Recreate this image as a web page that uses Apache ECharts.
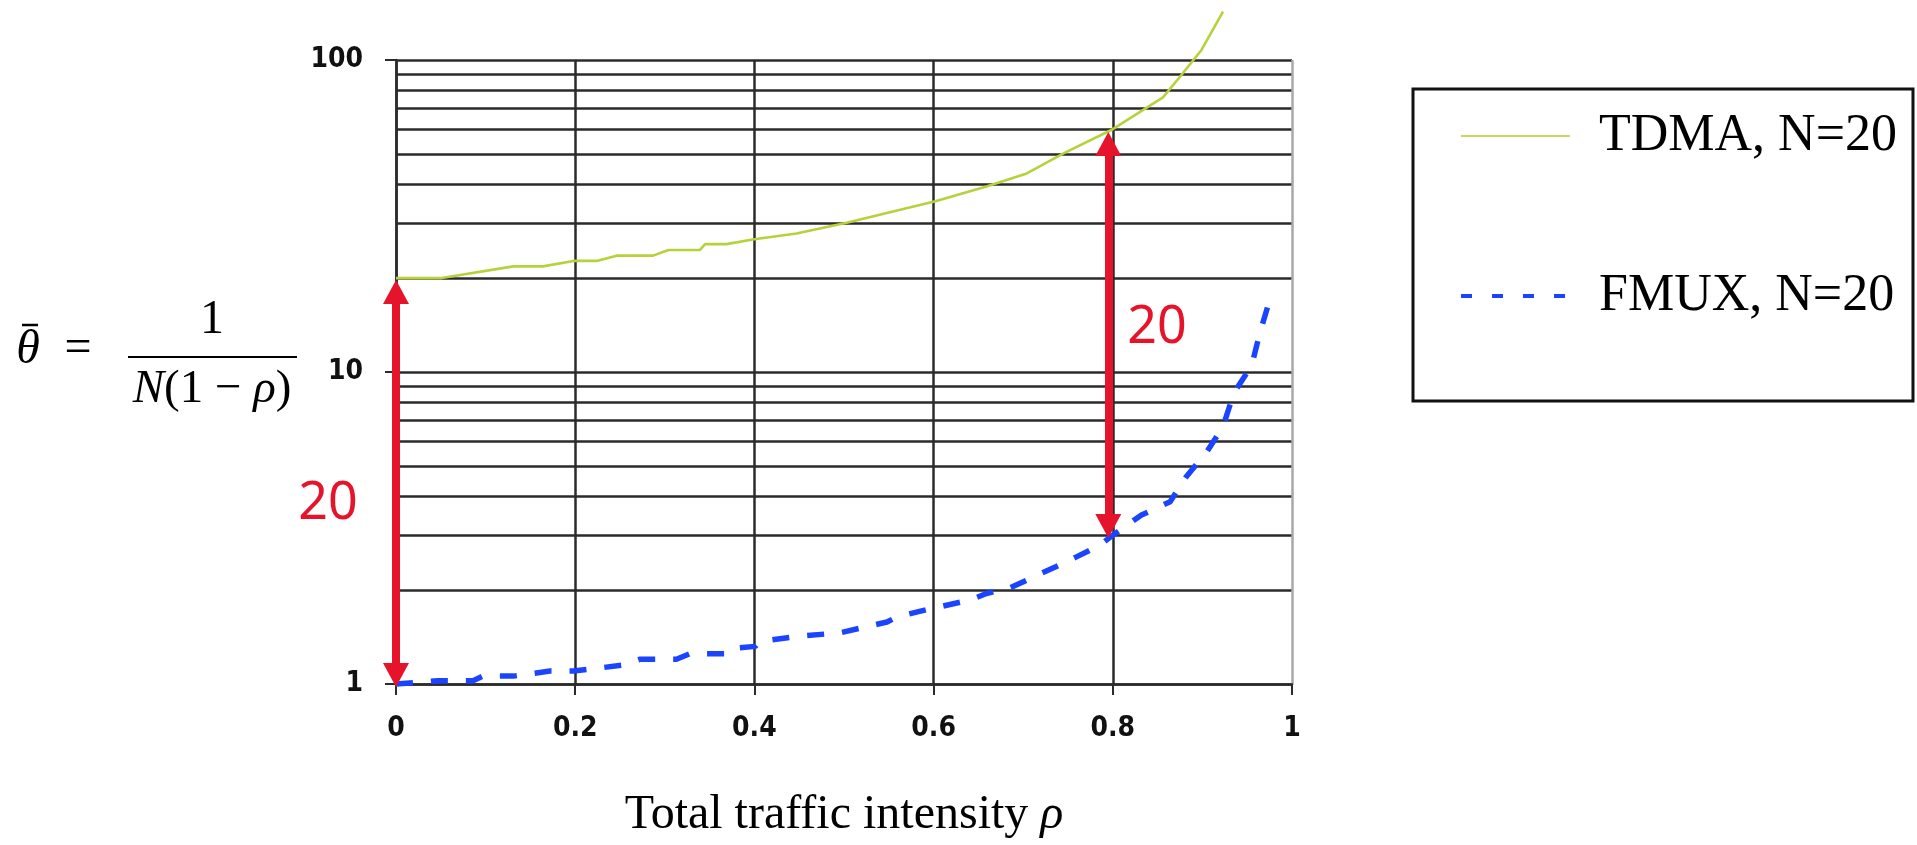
<!DOCTYPE html>
<html>
<head>
<meta charset="utf-8">
<title>TDMA vs FMUX delay</title>
<script src="https://cdn.jsdelivr.net/npm/echarts@6/dist/echarts.min.js"></script>
<style>
  html, body { margin: 0; padding: 0; background: #fff; }
  #chart { width: 1917px; height: 845px; }
</style>
</head>
<body>
<div id="chart"></div>
<script>
// curves (rho, mean delay)
const tdmaRho   = [0, 0.051, 0.131, 0.164, 0.198, 0.224, 0.246, 0.287, 0.304, 0.339, 0.345, 0.369, 0.398, 0.447, 0.503, 0.603, 0.659, 0.704, 0.745, 0.8, 0.856, 0.875, 0.899, 0.923]
const tdmaDelay = [20.0, 20.0, 21.8, 21.8, 22.7, 22.7, 23.6, 23.6, 24.6, 24.6, 25.7, 25.7, 26.6, 27.8, 30.1, 35.3, 39.3, 43.3, 50.2, 60, 75.9, 88.4, 107.7, 142.8]

const fmuxRho   = [0, 0.047, 0.086, 0.097, 0.131, 0.172, 0.198, 0.254, 0.272, 0.313, 0.328, 0.367, 0.373, 0.401, 0.406, 0.447, 0.496, 0.548, 0.559, 0.592, 0.641, 0.659, 0.685, 0.708, 0.737, 0.76, 0.786, 0.8, 0.832, 0.864, 0.882, 0.905, 0.923, 0.935, 0.955, 0.964, 0.975]
const fmuxDelay = [1.0, 1.025, 1.025, 1.06, 1.06, 1.10, 1.10, 1.15, 1.2, 1.2, 1.25, 1.25, 1.3, 1.32, 1.37, 1.42, 1.46, 1.58, 1.64, 1.73, 1.86, 1.95, 2.03, 2.18, 2.38, 2.56, 2.79, 3.0, 3.48, 3.84, 4.62, 5.55, 6.68, 8.55, 10.5, 13.3, 17.0]

// red "x20" arrows: [rho, value] where the two arrowheads sit
const leftArrow  = [[0, 1.069], [0, 18.05]]
const rightArrow = [[0.795, 3.21], [0.795, 53.8]]

const legendNames = ['TDMA, N=20', 'FMUX, N=20']

const RED = '#e5142b'
const TDMA_COLOR = '#b5d23c'
const FMUX_COLOR = '#1a44ff'
const serif = "'Liberation Serif', 'Times New Roman', serif"
const tickFont = "'Liberation Sans Narrow', 'DejaVu Sans Condensed', 'Liberation Sans', Arial, sans-serif"
const gridColor = '#2b2b2b'

const chart = echarts.init(document.getElementById('chart'))

const toPairs = (xs, ys) => xs.map((x, i) => [x, ys[i]])

const option = {
  animation: false,
  grid: { left: 396, top: 60, width: 896, height: 624 },
  legend: {
    orient: 'vertical',
    left: 1413,
    top: 89,
    padding: [17, 16, 75, 46],
    itemWidth: 109,
    itemHeight: 14,
    itemGap: 100,
    borderColor: '#111',
    borderWidth: 3,
    selectedMode: false,
    textStyle: { fontFamily: serif, fontSize: 52, lineHeight: 60, color: '#000', padding: [0, 0, 0, 24] },
    data: [
      { name: legendNames[0], itemStyle: { opacity: 0 }, lineStyle: { color: '#c5da62', width: 2, type: 'solid' } },
      { name: legendNames[1], itemStyle: { opacity: 0 }, lineStyle: { color: FMUX_COLOR, width: 4, type: [11, 20] } }
    ]
  },
  xAxis: {
    type: 'value',
    min: 0,
    max: 1,
    interval: 0.2,
    name: 'Total traffic intensity {i|ρ}',
    nameLocation: 'middle',
    nameGap: 107,
    nameTextStyle: {
      fontFamily: serif, fontSize: 48, color: '#000',
      rich: { i: { fontFamily: serif, fontSize: 48, fontStyle: 'italic', color: '#000' } }
    },
    axisLine: { lineStyle: { color: gridColor, width: 2.5 } },
    axisTick: { length: 11, lineStyle: { color: gridColor, width: 2 } },
    axisLabel: { margin: 31, fontFamily: tickFont, fontWeight: 'bold', fontSize: 28, color: '#111' },
    splitLine: { show: true, lineStyle: { color: [gridColor, gridColor, gridColor, gridColor, gridColor, '#a8a8a8'], width: 2.5 } }
  },
  yAxis: {
    type: 'log',
    logBase: 10,
    min: 1,
    max: 100,
    axisLine: { show: true, lineStyle: { color: gridColor, width: 2.5 } },
    axisTick: { show: true, length: 11, lineStyle: { color: gridColor, width: 2 } },
    axisLabel: { margin: 33, fontFamily: tickFont, fontWeight: 'bold', fontSize: 28, color: '#111', padding: [0, 0, 8, 0] },
    splitLine: { show: true, lineStyle: { color: gridColor, width: 2.5 } },
    minorTick: { show: false, splitNumber: 9 },
    minorSplitLine: { show: true, lineStyle: { color: gridColor, width: 2.5 } }
  },
  series: [
    {
      name: legendNames[0],
      type: 'line',
      data: toPairs(tdmaRho, tdmaDelay),
      symbol: 'none',
      clip: false,
      z: 2,
      lineStyle: { color: TDMA_COLOR, width: 2.6 },
      itemStyle: { color: TDMA_COLOR }
    },
    {
      name: legendNames[1],
      type: 'line',
      data: toPairs(fmuxRho, fmuxDelay),
      symbol: 'none',
      clip: false,
      z: 3,
      lineStyle: { color: FMUX_COLOR, width: 5.5, type: [17, 18], cap: 'butt' },
      itemStyle: { color: FMUX_COLOR },
      markLine: {
        silent: true,
        symbol: ['triangle', 'triangle'],
        symbolSize: [26, 24],
        label: { show: false },
        lineStyle: { color: RED, width: 8, type: 'solid' },
        emphasis: { disabled: true },
        data: [
          [{ coord: leftArrow[0] }, { coord: leftArrow[1] }],
          [{ coord: rightArrow[0] }, { coord: rightArrow[1] }]
        ]
      }
    }
  ],
  graphic: [
    // y label: theta-bar = 1 / (N(1 - rho))
    { type: 'text', x: 28, y: 350, style: { text: 'θ', fontFamily: serif, fontStyle: 'italic', fontSize: 48, fill: '#000', textAlign: 'center', textVerticalAlign: 'middle' } },
    { type: 'line', shape: { x1: 22, y1: 325, x2: 38, y2: 325 }, style: { stroke: '#000', lineWidth: 2.5 } },
    { type: 'text', x: 78, y: 349, style: { text: '=', fontFamily: serif, fontSize: 48, fill: '#000', textAlign: 'center', textVerticalAlign: 'middle' } },
    { type: 'line', shape: { x1: 128, y1: 357, x2: 297, y2: 357 }, style: { stroke: '#000', lineWidth: 2 } },
    { type: 'text', x: 212, y: 320, style: { text: '1', fontFamily: serif, fontSize: 48, fill: '#000', textAlign: 'center', textVerticalAlign: 'middle' } },
    {
      type: 'text', x: 212, y: 390,
      style: {
        text: '{i|N}(1 − {i|ρ})', fontFamily: serif, fontSize: 47, fill: '#000', textAlign: 'center', textVerticalAlign: 'middle',
        rich: { i: { fontFamily: serif, fontSize: 47, fontStyle: 'italic', fill: '#000' } }
      }
    },
    // the "20" gap labels next to the arrows
    { type: 'text', x: 328, y: 504, style: { text: '20', fontFamily: "'Noto Sans', 'Open Sans', sans-serif", fontSize: 52, fill: RED, textAlign: 'center', textVerticalAlign: 'middle' } },
    { type: 'text', x: 1157, y: 328, style: { text: '20', fontFamily: "'Noto Sans', 'Open Sans', sans-serif", fontSize: 52, fill: RED, textAlign: 'center', textVerticalAlign: 'middle' } }
  ]
}

chart.setOption(option)
window.addEventListener('resize', () => chart.resize())
</script>
</body>
</html>
